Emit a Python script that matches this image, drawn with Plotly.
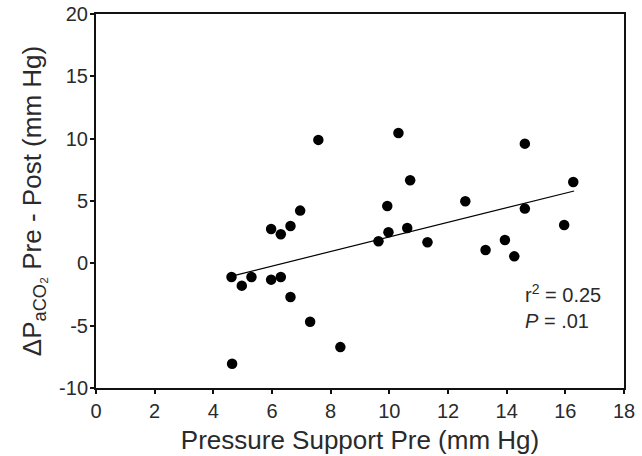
import plotly.graph_objects as go

# Data
pressure_support_pre = [7.58, 6.96, 5.97, 6.30, 6.63, 4.62, 4.97, 5.30, 5.97, 6.30,
                        6.63, 7.30, 8.33, 4.64, 10.31, 14.62, 10.71, 16.27, 9.93, 12.59,
                        14.62, 9.97, 10.61, 9.63, 11.30, 15.96, 13.28, 13.94, 14.26]
delta_paco2 = [9.9, 4.23, 2.75, 2.33, 2.99, -1.10, -1.79, -1.10, -1.31, -1.10,
               -2.70, -4.68, -6.72, -8.05, 10.46, 9.60, 6.66, 6.53, 4.60, 4.98,
               4.39, 2.49, 2.83, 1.77, 1.69, 3.07, 1.07, 1.87, 0.56]
fit_x = [4.7, 16.3]
fit_y = [-0.98, 5.8]

x_ticks = [0, 2, 4, 6, 8, 10, 12, 14, 16, 18]
y_ticks = [-10, -5, 0, 5, 10, 15, 20]
y_tick_labels = ["-10", "-5", "0", "5", "10", "15", "20"]

FONT = "Liberation Sans, Arial, sans-serif"
TXT = "#2a2a2a"

fig = go.Figure()
fig.add_trace(go.Scatter(x=fit_x, y=fit_y, mode="lines",
                         line=dict(color="black", width=1.2), hoverinfo="skip"))
fig.add_trace(go.Scatter(x=pressure_support_pre, y=delta_paco2, mode="markers",
                         marker=dict(color="black", size=10.5, line=dict(width=0))))

fig.add_annotation(x=14.55, y=-2.45, xref="x", yref="y", xanchor="left", yanchor="middle",
                   text="r<sup>2</sup> = 0.25", showarrow=False,
                   font=dict(family=FONT, size=20, color=TXT))
fig.add_annotation(x=14.55, y=-4.6, xref="x", yref="y", xanchor="left", yanchor="middle",
                   text="<i>P</i> = .01", showarrow=False,
                   font=dict(family=FONT, size=20, color=TXT))

axis_common = dict(showline=True, linecolor="#111", linewidth=2, mirror=True,
                   ticks="outside", ticklen=4, tickwidth=1.5, tickcolor="#111",
                   showgrid=False, zeroline=False, automargin=False,
                   tickfont=dict(family=FONT, size=20, color=TXT))

fig.update_xaxes(range=[0, 18], tickvals=x_ticks, **axis_common,
                 title=dict(text="Pressure Support Pre (mm Hg)", standoff=10,
                            font=dict(family=FONT, size=26, color=TXT)))
fig.update_yaxes(range=[-10, 20], tickvals=y_ticks, ticktext=y_tick_labels,
                 ticklabelstandoff=-2, **axis_common,
                 title=dict(text="ΔP<sub>aCO₂</sub> Pre - Post (mm Hg)", standoff=10,
                            font=dict(family=FONT, size=26, color=TXT)))

fig.update_layout(width=642, height=456, showlegend=False,
                  plot_bgcolor="white", paper_bgcolor="white",
                  margin=dict(l=96, r=18, t=14, b=68))

fig.write_html("out.html", config={"displayModeBar": False},
               post_script="document.body.style.margin='0';")
